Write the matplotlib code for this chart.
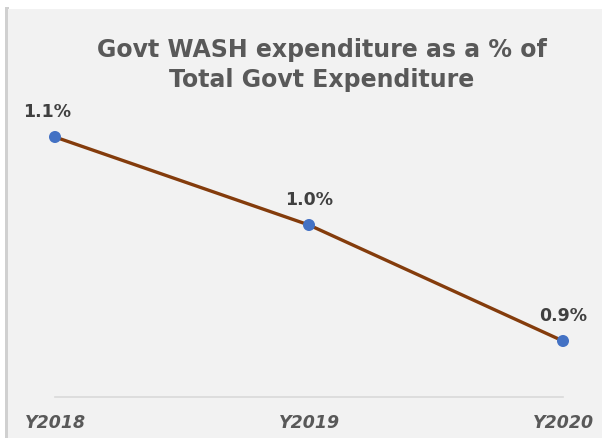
import matplotlib
matplotlib.use("Agg")
import matplotlib.pyplot as plt
from matplotlib.patches import Rectangle

years = ["Y2018", "Y2019", "Y2020"]
share = [1.125, 1.015, 0.87]
labels = ["1.1%", "1.0%", "0.9%"]

W, H = 602, 439
fig = plt.figure(figsize=(W / 100, H / 100), dpi=100)
fig.patch.set_facecolor("white")

# chart panel with a soft shadow on the left
bg = fig.add_axes([0, 0, 1, 1], zorder=0)
bg.axis("off")
bg.set_xlim(0, W)
bg.set_ylim(0, H)
bg.add_patch(Rectangle((5, 0), 4, H - 8, facecolor="#D0D0D0", edgecolor="none"))
bg.add_patch(Rectangle((8, 0), W, H - 10, facecolor="#F2F2F2", edgecolor="none"))

ax = fig.add_axes([55 / W, 1 - 398 / H, (563 - 55) / W, (398 - 78) / H], zorder=1)
ax.set_facecolor("none")
x = list(range(len(years)))
ax.plot(x, share, color="#843C0C", lw=2.4, zorder=2, solid_capstyle="round")
ax.scatter(x, share, s=75, color="#4472C4", zorder=3, edgecolors="none", clip_on=False)

for xi, yi, lab in zip(x, share, labels):
    dx = -8 if xi == 0 else 0
    ax.annotate(lab, (xi, yi), xytext=(dx, 26), textcoords="offset pixels",
                ha="center", va="center", fontsize=12.5, fontweight="bold",
                color="#404040", family="DejaVu Sans")

ax.set_xlim(0, 2)
ax.set_ylim(0.8, 1.2)
ax.set_yticks([])
ax.set_xticks(x)
ax.set_xticklabels(years, fontsize=12.5, fontweight="bold", style="italic",
                   color="#595959", family="DejaVu Sans")
ax.tick_params(axis="x", length=0, pad=11.5)
for s in ["top", "right", "left"]:
    ax.spines[s].set_visible(False)
ax.spines["bottom"].set_color("#D9D9D9")
ax.spines["bottom"].set_linewidth(1.2)

fig.text(322 / W, 1 - 65 / H, "Govt WASH expenditure as a % of\nTotal Govt Expenditure",
         ha="center", va="center", fontsize=17, fontweight="bold",
         color="#595959", family="DejaVu Sans", linespacing=1.3)

fig.savefig("out.png", dpi=100)
